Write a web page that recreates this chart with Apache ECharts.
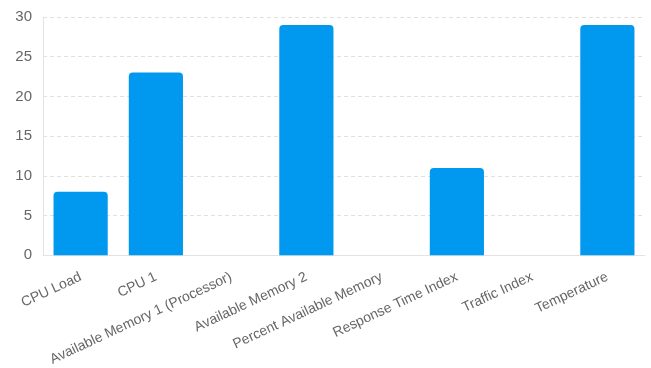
<!DOCTYPE html>
<html>
<head>
<meta charset="utf-8">
<script src="https://cdn.jsdelivr.net/npm/echarts@6/dist/echarts.min.js"></script>
<style>
  html, body { margin: 0; padding: 0; background: #fff; }
  #chart { width: 651px; height: 368px; }
</style>
</head>
<body>
<div id="chart"></div>
<script>
const categories = [
  'CPU Load',
  'CPU 1',
  'Available Memory 1 (Processor)',
  'Available Memory 2',
  'Percent Available Memory',
  'Response Time Index',
  'Traffic Index',
  'Temperature'
];
const values = [8, 23, 0, 29, 0, 11, 0, 29];
const yTicks = { min: 0, max: 30, interval: 5 };

const chart = echarts.init(document.getElementById('chart'), null, { renderer: 'canvas' });
chart.setOption({
  animation: false,
  grid: { left: 43, right: 6, top: 17, bottom: 112, containLabel: false },
  xAxis: {
    type: 'category',
    data: categories,
    axisLine: { show: true, lineStyle: { color: '#e3e3e3', width: 1 } },
    axisTick: { show: false },
    axisLabel: {
      interval: 0,
      rotate: 25,
      margin: 21,
      color: '#666',
      fontSize: 14,
      fontFamily: 'Liberation Sans, Arial, sans-serif'
    }
  },
  yAxis: {
    type: 'value',
    min: yTicks.min,
    max: yTicks.max,
    interval: yTicks.interval,
    axisLine: { show: true, lineStyle: { color: '#e3e3e3', width: 1 } },
    axisTick: { show: false },
    axisLabel: {
      color: '#666',
      fontSize: 15,
      margin: 11,
      fontFamily: 'Liberation Sans, Arial, sans-serif'
    },
    splitLine: { show: true, lineStyle: { color: '#e0e0e0', type: [4, 3], width: 1 } }
  },
  series: [{
    type: 'bar',
    data: values,
    barWidth: '72%',
    itemStyle: { color: '#0099ef', borderRadius: [4, 4, 0, 0] }
  }]
});
</script>
</body>
</html>
